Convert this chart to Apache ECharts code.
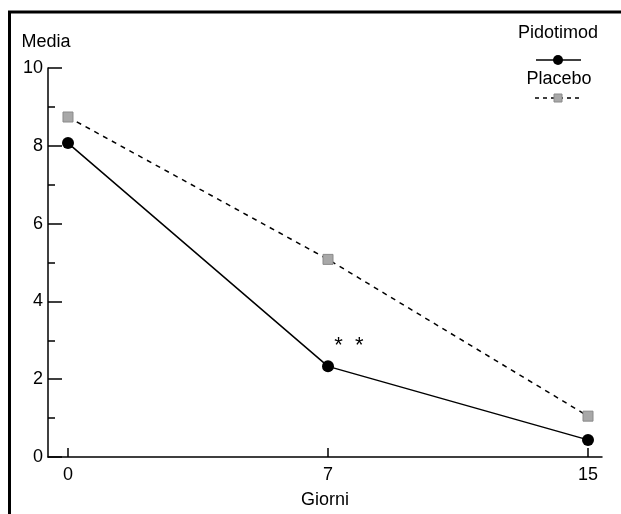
<!DOCTYPE html>
<html>
<head>
<meta charset="utf-8">
<script src="https://cdn.jsdelivr.net/npm/echarts@6/dist/echarts.min.js"></script>
<style>html,body{margin:0;padding:0;background:#fff;}#c{width:621px;height:514px;}</style>
</head>
<body>
<div id="c"></div>
<script>
const days = ['0', '7', '15'];
const pidotimod = [8.07, 2.33, 0.44];
const placebo = [8.74, 5.08, 1.05];
const seriesNames = ['Pidotimod', 'Placebo'];
const yMin = 0, yMax = 10, yStep = 2;

const FONT = 'Liberation Sans, Arial, sans-serif';
const FS = 18;
const idx = days.map((d, i) => i);

const chart = echarts.init(document.getElementById('c'));
chart.setOption({
  animation: false,
  backgroundColor: '#fff',
  grid: { left: 48, right: 19, top: 68, bottom: 57, outerBoundsMode: 'none', containLabel: false },
  xAxis: {
    type: 'value',
    min: -0.0769,
    max: 2.0538,
    name: 'Giorni',
    nameLocation: 'middle',
    nameGap: 34,
    nameTextStyle: { fontFamily: FONT, fontSize: FS, color: '#000' },
    axisLine: { onZero: false, lineStyle: { color: '#000', width: 1.5 } },
    axisTick: { show: true, inside: true, length: 9, customValues: idx, lineStyle: { color: '#000', width: 1.5 } },
    axisLabel: { customValues: idx, formatter: v => days[Math.round(v)], fontFamily: FONT, fontSize: FS, color: '#000', margin: 9 },
    splitLine: { show: false }
  },
  yAxis: {
    type: 'value',
    min: yMin, max: yMax, interval: yStep,
    name: 'Media',
    nameLocation: 'end',
    nameGap: 17,
    nameTextStyle: { fontFamily: FONT, fontSize: FS, color: '#000', padding: [0, 4, 0, 0] },
    axisLine: { show: true, onZero: false, lineStyle: { color: '#000', width: 1.5 } },
    axisTick: { show: true, inside: true, length: 14, lineStyle: { color: '#000', width: 1.5 } },
    minorTick: { show: true, splitNumber: 2, length: 7, lineStyle: { color: '#000', width: 1.5 } },
    axisLabel: { fontFamily: FONT, fontSize: FS, color: '#000', margin: 5 },
    splitLine: { show: false }
  },
  series: [
    {
      name: seriesNames[0], type: 'line',
      data: pidotimod.map((v, i) => i === 1 ? { value: [i, v], label: { show: true } } : [i, v]),
      symbol: 'circle', symbolSize: 12,
      itemStyle: { color: '#000' },
      lineStyle: { color: '#000', width: 1.5 },
      label: { show: false, formatter: '*  *', position: 'top', offset: [21, 2], fontFamily: FONT, fontSize: 22, color: '#000' },
      z: 3
    },
    {
      name: seriesNames[1], type: 'line',
      data: placebo.map((v, i) => [i, v]),
      symbol: 'rect', symbolSize: 10,
      itemStyle: { color: '#a8a8a8', borderColor: '#8a8a8a', borderWidth: 1 },
      lineStyle: { color: '#000', width: 1.5, type: [5, 5] },
      z: 2
    }
  ],
  graphic: [
    { type: 'line', shape: { x1: 8, y1: 12, x2: 621, y2: 12 }, style: { stroke: '#000', lineWidth: 3 } },
    { type: 'line', shape: { x1: 9.5, y1: 11, x2: 9.5, y2: 514 }, style: { stroke: '#000', lineWidth: 3 } },
    { type: 'text', x: 558, y: 33, style: { text: seriesNames[0], font: FS + 'px ' + FONT, fill: '#000', textAlign: 'center', textVerticalAlign: 'middle' } },
    { type: 'line', shape: { x1: 536, y1: 60, x2: 581, y2: 60 }, style: { stroke: '#000', lineWidth: 1.5 } },
    { type: 'circle', shape: { cx: 558, cy: 60, r: 5 }, style: { fill: '#000' } },
    { type: 'text', x: 559, y: 79, style: { text: seriesNames[1], font: FS + 'px ' + FONT, fill: '#000', textAlign: 'center', textVerticalAlign: 'middle' } },
    { type: 'line', shape: { x1: 535, y1: 98, x2: 581, y2: 98 }, style: { stroke: '#000', lineWidth: 1.5, lineDash: [4, 4] } },
    { type: 'rect', shape: { x: 554, y: 94, width: 8, height: 8 }, style: { fill: '#a8a8a8', stroke: '#8a8a8a', lineWidth: 1 } }
  ]
});
</script>
</body>
</html>
